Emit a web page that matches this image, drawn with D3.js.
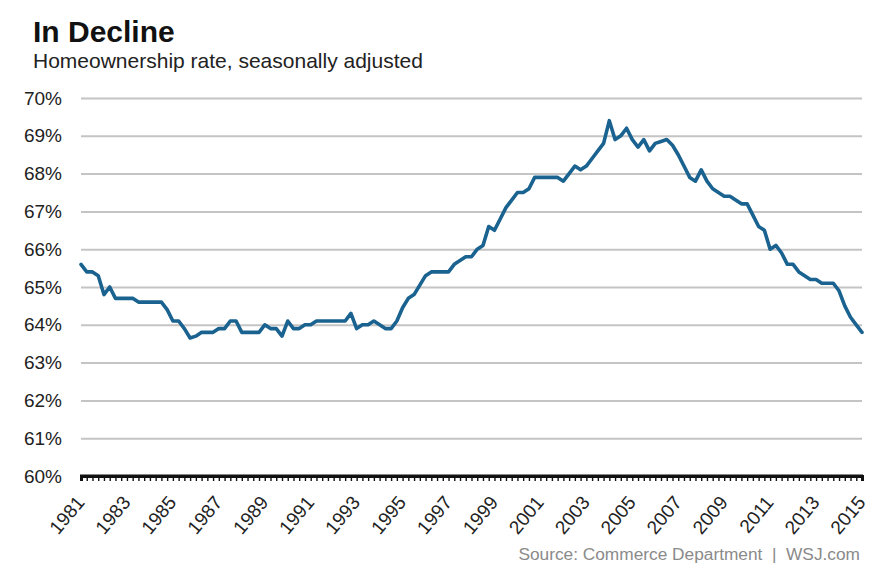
<!DOCTYPE html>
<html>
<head>
<meta charset="utf-8">
<script src="https://cdn.jsdelivr.net/npm/d3@7"></script>
<style>
  html, body { margin: 0; padding: 0; background: #fff; }
  svg { display: block; font-family: "Liberation Sans", Arial, Helvetica, sans-serif; }
</style>
</head>
<body>
<svg id="chart" width="894" height="579"></svg>
<script>
// ---- data ----
const title = "In Decline";
const subtitle = "Homeownership rate, seasonally adjusted";
const source = "Source: Commerce Department  |  WSJ.com";
const startYear = 1981;          // first quarter of series: 1981 Q1
const pointsPerYear = 4;         // quarterly data
const rate = [
  65.6,65.4,65.4,65.3, //1981
  64.8,65.0,64.7,64.7, //1982
  64.7,64.7,64.6,64.6, //1983
  64.6,64.6,64.6,64.4, //1984
  64.1,64.1,63.9,63.65,//1985
  63.7,63.8,63.8,63.8, //1986
  63.9,63.9,64.1,64.1, //1987
  63.8,63.8,63.8,63.8, //1988
  64.0,63.9,63.9,63.7, //1989
  64.1,63.9,63.9,64.0, //1990
  64.0,64.1,64.1,64.1, //1991
  64.1,64.1,64.1,64.3, //1992
  63.9,64.0,64.0,64.1, //1993
  64.0,63.9,63.9,64.1, //1994
  64.45,64.7,64.8,65.05,//1995
  65.3,65.4,65.4,65.4, //1996
  65.4,65.6,65.7,65.8, //1997
  65.8,66.0,66.1,66.6, //1998
  66.5,66.8,67.1,67.3, //1999
  67.5,67.5,67.6,67.9, //2000
  67.9,67.9,67.9,67.9, //2001
  67.8,68.0,68.2,68.1, //2002
  68.2,68.4,68.6,68.8, //2003
  69.4,68.9,69.0,69.2, //2004
  68.9,68.7,68.9,68.6, //2005
  68.8,68.85,68.9,68.75,//2006
  68.5,68.2,67.9,67.8, //2007
  68.1,67.8,67.6,67.5, //2008
  67.4,67.4,67.3,67.2, //2009
  67.2,66.9,66.6,66.5, //2010
  66.0,66.1,65.9,65.6, //2011
  65.6,65.4,65.3,65.2, //2012
  65.2,65.1,65.1,65.1, //2013
  64.9,64.5,64.2,64.0, //2014
  63.8                 //2015
];
const yTicks = [60,61,62,63,64,65,66,67,68,69,70];
const xLabelYears = [1981,1983,1985,1987,1989,1991,1993,1995,1997,1999,2001,2003,2005,2007,2009,2011,2013,2015];

// ---- layout ----
const svg = d3.select("#chart");
const W = 894, H = 579;
const plot = { left: 81, right: 862, top: 98, bottom: 476 };

svg.append("rect").attr("width", W).attr("height", H).attr("fill", "#fff");

const series = rate.map((v, i) => ({ t: startYear + i / pointsPerYear, v }));
const x = d3.scaleLinear().domain([startYear, series[series.length - 1].t]).range([plot.left, plot.right]);
const y = d3.scaleLinear().domain([60, 70]).range([plot.bottom, plot.top]);

// titles
svg.append("text").attr("x", 33).attr("y", 42)
  .attr("font-size", 30).attr("font-weight", "bold").attr("fill", "#111").text(title);
svg.append("text").attr("x", 33).attr("y", 68)
  .attr("font-size", 21).attr("fill", "#222").text(subtitle);

// y gridlines + labels
const yAxis = d3.axisLeft(y).tickValues(yTicks)
  .tickSize(-(plot.right - plot.left))
  .tickPadding(19)
  .tickFormat(d => d + "%");
const gy = svg.append("g").attr("transform", `translate(${plot.left},0)`).call(yAxis);
gy.select(".domain").remove();
gy.selectAll(".tick line").attr("stroke", "#c4c4c4").attr("stroke-width", 2);
gy.selectAll(".tick text").attr("font-size", 19).attr("fill", "#222")
  .attr("font-family", "'Liberation Sans', Arial, sans-serif");

// x axis at 60% with quarterly ticks
const quarterTicks = series.map(d => d.t);
const xAxis = d3.axisBottom(x).tickValues(quarterTicks).tickSize(5)
  .tickFormat(d => (Math.abs(d - Math.round(d)) < 1e-9 && xLabelYears.includes(Math.round(d))) ? String(Math.round(d)) : "");
const gx = svg.append("g").attr("transform", `translate(0,${plot.bottom})`).call(xAxis);
gx.select(".domain").attr("stroke", "#111").attr("stroke-width", 3);
gx.selectAll(".tick line").attr("stroke", "#111").attr("stroke-width", 1.4);
gx.selectAll(".tick text")
  .attr("font-size", 19).attr("fill", "#222")
  .attr("font-family", "'Liberation Sans', Arial, sans-serif")
  .attr("text-anchor", "end")
  .attr("dy", 0)
  .attr("transform", "translate(4,27) rotate(-50)")
  .attr("y", 0).attr("x", 0);
// thick black baseline over the gridline at 60%
svg.append("line").attr("x1", plot.left - 1).attr("x2", plot.right + 1)
  .attr("y1", y(60)).attr("y2", y(60)).attr("stroke", "#111").attr("stroke-width", 3);

// data line
const line = d3.line().x(d => x(d.t)).y(d => y(d.v));
svg.append("path").datum(series)
  .attr("d", line)
  .attr("fill", "none")
  .attr("stroke", "#1a628f")
  .attr("stroke-width", 3.6)
  .attr("stroke-linejoin", "round")
  .attr("stroke-linecap", "round");

// source
svg.append("text").attr("x", 860).attr("y", 560).attr("text-anchor", "end")
  .attr("font-size", 17.3).attr("fill", "#8a8a8a")
  .attr("xml:space", "preserve").style("white-space", "pre")
  .text(source);
</script>
</body>
</html>
